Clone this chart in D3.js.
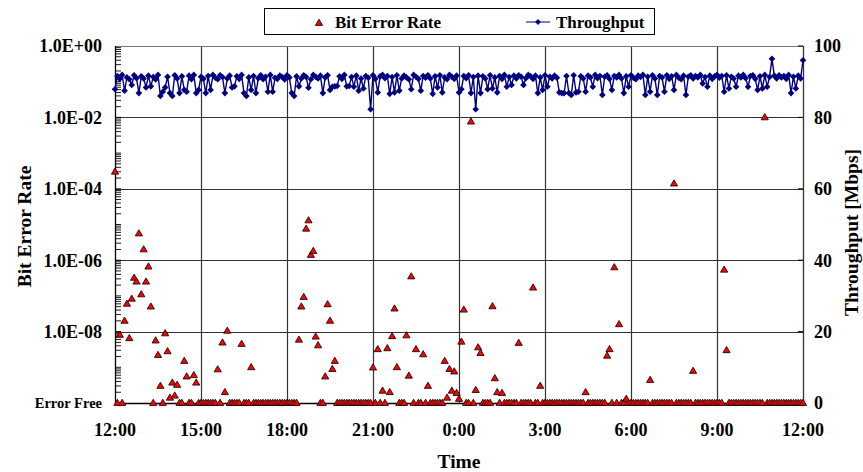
<!DOCTYPE html>
<html><head><meta charset="utf-8">
<script src="https://cdn.jsdelivr.net/npm/d3@7"></script>
<style>
body{margin:0;background:#fff}
text{font-family:"Liberation Serif","Times New Roman",serif;font-weight:bold;fill:#000}
</style>
</head><body>
<svg id="c" width="863" height="472"></svg>
<script>
// ---------- data ----------
const timeTicks  = [0, 3, 6, 9, 12, 15, 18, 21, 24];           // hours since start (12:00)
const timeLabels = ["12:00","15:00","18:00","21:00","0:00","3:00","6:00","9:00","12:00"];
const berTicks   = [1, 1e-2, 1e-4, 1e-6, 1e-8, 1e-10];
const berLabels  = ["1.0E+00","1.0E-02","1.0E-04","1.0E-06","1.0E-08","Error Free"];
const tpTicks    = [0, 20, 40, 60, 80, 100];
const sampleMinutes = 5;   // one sample every 5 minutes
// Bit error rate per sample (0 = error free)
const ber = [
  3.0e-4,0,8.1e-9,0,2.0e-8,6.0e-8,6.5e-9,8.3e-8,3.2e-7,2.5e-7,5.6e-6,1.1e-7,
  2.0e-6,2.5e-7,6.6e-7,5.0e-8,0,5.6e-9,2.2e-9,3.0e-10,0,8.9e-9,2.8e-9,1.4e-10,
  3.7e-10,1.6e-10,3.2e-10,0,0,1.5e-9,5.5e-10,0,0,6.0e-10,3.7e-10,0,
  0,0,0,0,0,0,0,8.7e-10,0,4.9e-9,2.0e-10,1.05e-8,
  0,0,0,0,0,4.5e-9,0,0,0,1.0e-9,0,0,
  0,0,0,0,0,0,0,0,0,0,0,0,
  0,0,0,0,0,5.9e-9,5.0e-8,9.3e-8,7.6e-6,1.3e-5,1.4e-6,1.8e-6,
  7.2e-9,4.1e-9,0,0,5.5e-10,5.8e-8,2.0e-8,8.9e-10,1.5e-9,0,0,0,
  0,0,0,0,0,0,0,0,0,0,0,0,
  9.8e-10,0,3.2e-9,0,2.2e-10,0,3.4e-9,2.0e-10,7.4e-9,4.4e-8,1.0e-9,0,
  0,0,7.8e-9,5.8e-10,3.5e-7,0,3.2e-9,0,0,2.3e-9,0,3.0e-10,
  0,0,0,0,0,0,1.5e-9,1.4e-10,8.9e-10,2.2e-10,7.6e-10,1.9e-10,
  1.3e-10,5.2e-9,4.1e-8,0,0,7.6e-3,0,2.3e-10,3.6e-9,2.5e-9,0,0,
  0,0,5.1e-8,4.9e-10,2.0e-10,0,1.9e-10,0,0,0,0,0,
  0,4.8e-9,0,0,0,0,0,1.7e-7,0,0,3.0e-10,0,
  0,0,0,0,0,0,0,0,0,0,0,0,
  0,0,0,0,0,2.0e-10,0,0,0,0,0,0,
  0,0,2.1e-9,3.2e-9,0,6.3e-7,0,1.6e-8,0,0,1.3e-10,0,
  0,0,0,0,0,0,0,0,4.4e-10,0,0,0,
  0,0,0,0,0,0,1.4e-4,0,0,0,0,0,
  0,0,7.9e-10,0,0,0,0,0,0,0,0,0,
  0,0,0,5.4e-7,3.0e-9,0,0,0,0,0,0,0,
  0,0,0,0,0,0,0,0,1.0e-2,0,0,0,
  0,0,0,0,0,0,0,0,0,0,0,0,
  0
];
// Throughput [Mbps] per sample
const throughput = [
  87.9,91.6,90.8,91.9,87.5,91.2,90.7,89.1,91.8,91.0,86.8,91.5,
  90.9,88.4,91.7,88.7,91.3,90.6,91.9,86.0,87.2,88.4,91.4,86.8,
  86.0,91.8,90.9,86.8,91.5,87.7,87.2,91.7,90.7,91.9,86.8,87.7,
  91.4,90.8,86.8,91.6,87.7,91.9,91.1,90.7,91.8,91.3,86.8,90.9,
  91.7,88.4,88.7,91.5,90.8,91.9,86.8,86.0,91.2,87.7,91.6,86.8,
  91.0,91.8,90.7,91.4,87.2,91.9,87.2,91.1,90.8,91.7,91.3,90.6,
  91.8,91.2,86.8,86.0,91.5,88.7,90.9,91.8,91.3,88.3,90.7,91.9,
  91.4,90.9,91.7,86.8,91.2,91.8,87.7,88.6,88.7,88.8,91.5,90.8,
  91.9,88.7,88.8,91.3,88.6,91.7,87.5,90.9,88.1,91.6,91.1,82.3,
  91.8,90.8,87.0,91.5,91.9,91.0,91.6,86.6,91.3,87.0,91.8,87.5,
  90.9,91.7,91.2,90.7,87.9,91.9,91.4,90.8,87.5,91.6,91.1,91.8,
  90.9,86.6,91.5,88.4,91.8,87.0,91.2,90.7,91.9,91.4,90.8,91.7,
  87.0,87.9,91.6,91.0,91.8,86.8,91.3,82.3,91.7,86.8,91.5,90.9,
  87.9,91.8,88.1,91.2,87.0,91.6,90.8,91.9,88.6,91.3,89.1,91.7,
  90.9,91.8,91.4,89.1,91.0,91.9,91.5,90.8,91.7,86.8,91.2,87.7,
  91.8,88.6,91.4,90.9,91.7,91.1,87.0,86.8,86.8,91.6,86.8,86.3,
  91.8,87.0,87.2,91.5,90.9,87.2,91.7,91.2,88.6,91.9,91.0,91.6,
  86.3,91.4,91.8,90.8,87.7,91.6,91.2,91.9,90.9,86.8,91.5,88.6,
  91.8,91.1,90.7,91.7,91.3,91.9,86.3,91.4,87.2,91.8,90.9,86.3,
  91.6,91.2,87.2,91.8,90.8,91.5,87.7,91.9,91.1,90.7,91.7,86.3,
  91.4,91.8,90.9,91.6,91.2,91.9,89.5,91.3,88.6,91.7,90.8,91.5,
  91.9,91.1,91.6,87.2,91.8,88.1,91.4,90.9,88.6,91.7,91.2,91.9,
  91.0,88.6,91.6,91.8,90.8,87.7,91.5,88.1,91.9,88.6,91.3,96.4,
  91.7,90.9,91.8,91.2,91.6,90.8,91.9,86.8,91.4,88.1,91.7,90.9,
  96.0
];

// ---------- layout ----------
const L = 115, R = 803, T = 46, B = 403;
const svg = d3.select("#c");
const x  = d3.scaleLinear().domain([0, 24]).range([L, R]);
const yL = d3.scaleLog().domain([1e-10, 1]).range([B, T]);
const yR = d3.scaleLinear().domain([0, 100]).range([B, T]);
const hourOf = i => i * sampleMinutes / 60;

const grid = svg.append("g");
grid.selectAll("line.h").data(berTicks.slice(0, -1)).join("line")
  .attr("x1", L).attr("x2", R).attr("y1", d => Math.round(yL(d)) + 0.5).attr("y2", d => Math.round(yL(d)) + 0.5)
  .attr("stroke", "#333").attr("stroke-width", 1.2);
grid.selectAll("line.v").data(timeTicks.slice(1, -1)).join("line")
  .attr("y1", T).attr("y2", B).attr("x1", d => Math.round(x(d)) + 0.5).attr("x2", d => Math.round(x(d)) + 0.5)
  .attr("stroke", "#333").attr("stroke-width", 1.2);
svg.append("line").attr("x1", L).attr("x2", R).attr("y1", T + 0.5).attr("y2", T + 0.5).attr("stroke", "#777");
svg.append("line").attr("x1", R + 0.5).attr("x2", R + 0.5).attr("y1", T).attr("y2", B).attr("stroke", "#333").attr("stroke-width", 1.3);

// left axis with log minor ticks (inside)
const leftAx = svg.append("g").attr("transform", `translate(${L},0)`);
const minor = [];
for (let e = -10; e < 0; e++) for (let k = 1; k <= 9; k++) minor.push(k * Math.pow(10, e));
leftAx.selectAll("line").data(minor).join("line")
  .attr("x1", 0).attr("x2", 6).attr("y1", d => yL(d)).attr("y2", d => yL(d))
  .attr("stroke", "#000").attr("stroke-width", 0.9);
leftAx.append("line").attr("x1", 0.5).attr("x2", 0.5).attr("y1", T).attr("y2", B).attr("stroke", "#000").attr("stroke-width", 1.3);
svg.append("g").selectAll("text").data(berTicks).join("text")
  .attr("x", 102).attr("y", d => yL(d)).attr("dy", "0.35em").attr("text-anchor", "end")
  .style("font-size", (d, i) => i === berTicks.length - 1 ? "14.5px" : "18px")
  .text((d, i) => berLabels[i]);

// right axis
svg.append("g").selectAll("line").data(tpTicks).join("line")
  .attr("x1", R - 5).attr("x2", R).attr("y1", d => yR(d)).attr("y2", d => yR(d)).attr("stroke", "#000");
svg.append("g").selectAll("text").data(tpTicks).join("text")
  .attr("x", 814).attr("y", d => yR(d)).attr("dy", "0.35em").style("font-size", "18px").text(d => d);

// bottom axis
svg.append("line").attr("x1", L).attr("x2", R).attr("y1", B + 0.5).attr("y2", B + 0.5).attr("stroke", "#000").attr("stroke-width", 1.3);
svg.append("g").selectAll("text").data(timeTicks).join("text")
  .attr("x", d => x(d)).attr("y", 436).attr("text-anchor", "middle").style("font-size", "18px")
  .text((d, i) => timeLabels[i]);

// titles
svg.append("text").attr("x", (L + R) / 2).attr("y", 468).attr("text-anchor", "middle").style("font-size", "19.5px").text("Time");
svg.append("text").attr("transform", `translate(31,${(T + B) / 2 + 2}) rotate(-90)`).attr("text-anchor", "middle").style("font-size", "19.5px").text("Bit Error Rate");
svg.append("text").attr("transform", `translate(858,${(T + B) / 2 + 8}) rotate(-90)`).attr("text-anchor", "middle").style("font-size", "19.5px").text("Throughput [Mbps]");

// throughput series
const navy = "#000080";
const tpData = throughput.map((v, i) => ({ h: hourOf(i), v }));
svg.append("path").datum(tpData)
  .attr("d", d3.line().x(d => x(d.h)).y(d => yR(d.v)))
  .attr("fill", "none").attr("stroke", navy).attr("stroke-width", 1.4);
const diamond = "M0,-3.3L3.3,0L0,3.3L-3.3,0Z";
svg.append("g").selectAll("path").data(tpData).join("path")
  .attr("d", diamond).attr("transform", d => `translate(${x(d.h)},${yR(d.v)})`).attr("fill", navy);

// BER series
const tri = "M0,-3.8L3.6,2.4L-3.6,2.4Z";
const berData = ber.map((v, i) => ({ h: hourOf(i), v: v > 0 ? v : 1e-10 }));
svg.append("g").selectAll("path").data(berData).join("path")
  .attr("d", tri).attr("transform", d => `translate(${x(d.h)},${yL(d.v)})`)
  .attr("fill", "#ff0000").attr("stroke", "#000").attr("stroke-width", 0.8);

// legend
const lg = svg.append("g");
lg.append("rect").attr("x", 264.5).attr("y", 8.5).attr("width", 390).attr("height", 26).attr("fill", "#fff").attr("stroke", "#000");
lg.append("path").attr("d", tri).attr("transform", "translate(319,23)").attr("fill", "#ff0000").attr("stroke", "#000").attr("stroke-width", 0.8);
lg.append("text").attr("x", 335).attr("y", 28).style("font-size", "17px").text("Bit Error Rate");
lg.append("line").attr("x1", 526).attr("x2", 550).attr("y1", 22).attr("y2", 22).attr("stroke", navy);
lg.append("path").attr("d", "M0,-2.9L2.9,0L0,2.9L-2.9,0Z").attr("transform", "translate(538,22)").attr("fill", navy);
lg.append("text").attr("x", 556).attr("y", 28).style("font-size", "17px").text("Throughput");
</script>
</body></html>
